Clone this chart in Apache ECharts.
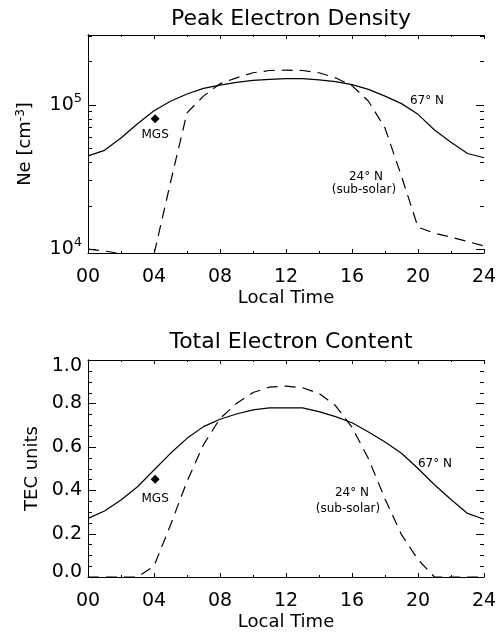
<!DOCTYPE html>
<html><head><meta charset="utf-8">
<script src="https://cdn.jsdelivr.net/npm/echarts@6/dist/echarts.min.js"></script>
<style>html,body{margin:0;padding:0;background:#fff;overflow:hidden}#c{width:500px;height:634px}</style>
</head><body><div id="c"></div>
<script>
// ---- data ----
const hours = [0,1,2,3,4,5,6,7,8,9,10,11,12,13,14,15,16,17,18,19,20,21,22,23,24];
const ne67 = [4.43e4,4.84e4,5.9e4,7.4e4,9.1e4,1.06e5,1.19e5,1.30e5,1.37e5,1.43e5,1.48e5,1.50e5,1.52e5,1.52e5,1.49e5,1.45e5,1.38e5,1.28e5,1.15e5,1.02e5,8.6e4,6.7e4,5.5e4,4.6e4,4.3e4];
const ne24 = [1.0e4,9.7e3,9.3e3,8.0e3,9.2e3,2.9e4,8.8e4,1.15e5,1.40e5,1.54e5,1.67e5,1.73e5,1.74e5,1.73e5,1.67e5,1.54e5,1.36e5,1.06e5,6.9e4,3.2e4,1.42e4,1.29e4,1.21e4,1.13e4,1.05e4];
const tec67 = [0.27,0.304,0.355,0.416,0.493,0.57,0.639,0.693,0.727,0.751,0.77,0.779,0.78,0.779,0.762,0.739,0.711,0.668,0.622,0.57,0.50,0.425,0.357,0.293,0.266];
const tec24 = [0,0,0,0,0.05,0.24,0.44,0.61,0.73,0.80,0.85,0.875,0.88,0.872,0.846,0.79,0.69,0.545,0.36,0.195,0.08,0,0,0,0];
const mgsTime = 4.07;
const mgsNe = 8.0e4;
const mgsTec = 0.45;
const xTickLabels = ['00','04','08','12','16','20','24'];
const xTickValues = [0,2,4,6,8,10,12,14,16,18,20,22,24];
const neMajorTicks = [1e4,1e5];
const neMinorTicks = [2e4,3e4,4e4,5e4,6e4,7e4,8e4,9e4,2e5,3e5];
const tecMajorTicks = [0,0.2,0.4,0.6,0.8,1.0];
const tecMinorTicks = [0.05,0.1,0.15,0.25,0.3,0.35,0.45,0.5,0.55,0.65,0.7,0.75,0.85,0.9,0.95];
const titles = ['Peak Electron Density','Total Electron Content'];

const FONT = 'DejaVu Sans';
const BLACK = '#000';
const NE_MIN = 9400, NE_MAX = 3.05e5;

function xAxisCfg(grid, pos, labels, name) {
  return {
    type:'value', gridIndex:grid, position:pos, min:0, max:24, interval:4,
    name: name || '', nameLocation:'middle', nameGap:36,
    nameTextStyle:{fontFamily:FONT, fontSize:18, color:BLACK},
    axisLine:{show:true, onZero:false, lineStyle:{color:BLACK, width:1}},
    axisTick:{show:false}, minorTick:{show:false}, splitLine:{show:false},
    axisLabel:{show:labels, margin:15, fontFamily:FONT, fontSize:19, color:BLACK,
      formatter: v => xTickLabels[Math.round(v/4)]}
  };
}
// tick items: [x, y, kind(0 = x tick, 1 = y tick), length]
function tickData(yRef, yMajor, yMinor) {
  const d = [];
  xTickValues.forEach(v => d.push([v, yRef, 0, (v % 4 === 0) ? 4 : 2]));
  yMajor.forEach(v => d.push([0, v, 1, 8]));
  yMinor.forEach(v => d.push([0, v, 1, 4]));
  return d;
}
function tickSeries(xi, yi, data) {
  return {
    type:'custom', xAxisIndex:xi, yAxisIndex:yi, data:data, silent:true, clip:false, z:10,
    renderItem:(params, api) => {
      const cs = params.coordSys;
      const p = api.coord([api.value(0), api.value(1)]);
      const len = api.value(3);
      const st = {stroke:BLACK, lineWidth:1};
      if (api.value(2) === 0) {
        const x = Math.round(p[0]) + 0.5;
        const yb = cs.y + cs.height, yt = cs.y;
        return {type:'group', children:[
          {type:'line', shape:{x1:x, y1:yb, x2:x, y2:yb - len}, style:st},
          {type:'line', shape:{x1:x, y1:yt, x2:x, y2:yt + len}, style:st}
        ]};
      }
      const y = Math.round(p[1]) + 0.5;
      const xl = cs.x, xr = cs.x + cs.width;
      return {type:'group', children:[
        {type:'line', shape:{x1:xl, y1:y, x2:xl + len, y2:y}, style:st},
        {type:'line', shape:{x1:xr, y1:y, x2:xr - len, y2:y}, style:st}
      ]};
    }
  };
}

const option = {
  animation:false,
  backgroundColor:'#fff',
  title:[
    {text:titles[0], left:286, top:3, textAlign:'center', textStyle:{fontFamily:FONT, fontSize:22, fontWeight:'normal', color:BLACK}},
    {text:titles[1], left:286, top:326, textAlign:'center', textStyle:{fontFamily:FONT, fontSize:22, fontWeight:'normal', color:BLACK}}
  ],
  grid:[
    {left:88, top:35, width:396, height:218, outerBoundsMode:'none'},
    {left:88, top:360, width:396, height:217, outerBoundsMode:'none'}
  ],
  xAxis:[
    xAxisCfg(0,'bottom',true,'Local Time'),
    xAxisCfg(0,'top',false),
    xAxisCfg(1,'bottom',true,'Local Time'),
    xAxisCfg(1,'top',false)
  ],
  yAxis:[
    {type:'log', gridIndex:0, position:'left', min:NE_MIN, max:NE_MAX, logBase:10,
      name:'Ne [cm{s|-3}]', nameLocation:'middle', nameGap:52,
      nameTextStyle:{fontFamily:FONT, fontSize:18, color:BLACK, rich:{s:{fontFamily:FONT, fontSize:12, padding:[0,0,9,0]}}},
      axisLine:{show:true, lineStyle:{color:BLACK}},
      axisTick:{show:false}, splitLine:{show:false}, minorTick:{show:false},
      axisLabel:{show:true, margin:6, fontFamily:FONT, fontSize:19, color:BLACK,
        formatter: v => { const e = Math.log10(v); if (Math.abs(e-Math.round(e))>1e-6) return ''; return '{b|10}{s|'+Math.round(e)+'}'; },
        rich:{b:{fontFamily:FONT, fontSize:19, color:BLACK}, s:{fontFamily:FONT, fontSize:13, color:BLACK, padding:[0,0,12,0]}}}
    },
    {type:'log', gridIndex:0, position:'right', min:NE_MIN, max:NE_MAX, logBase:10,
      axisLine:{show:true, lineStyle:{color:BLACK}},
      axisTick:{show:false}, splitLine:{show:false}, axisLabel:{show:false}
    },
    {type:'value', gridIndex:1, position:'left', min:0, max:1, interval:0.2,
      name:'TEC units', nameLocation:'middle', nameGap:47,
      nameTextStyle:{fontFamily:FONT, fontSize:18, color:BLACK},
      axisLine:{show:true, lineStyle:{color:BLACK}},
      axisTick:{show:false}, minorTick:{show:false}, splitLine:{show:false},
      axisLabel:{show:true, margin:6, fontFamily:FONT, fontSize:19, color:BLACK,
        formatter: v => v === 0 ? '{lo|0.0}' : (v === 1 ? '{hi|1.0}' : v.toFixed(1)),
        rich:{lo:{fontFamily:FONT, fontSize:19, color:BLACK, padding:[0,0,10,0]},
              hi:{fontFamily:FONT, fontSize:19, color:BLACK, padding:[12,0,0,0]}}}
    },
    {type:'value', gridIndex:1, position:'right', min:0, max:1, interval:0.2,
      axisLine:{show:true, lineStyle:{color:BLACK}},
      axisTick:{show:false}, minorTick:{show:false}, splitLine:{show:false}, axisLabel:{show:false}
    }
  ],
  series:[
    {type:'line', xAxisIndex:0, yAxisIndex:0, data:hours.map((h,i)=>[h,ne67[i]]), showSymbol:false, symbol:'none',
      lineStyle:{color:BLACK, width:1.2}, silent:true},
    {type:'line', xAxisIndex:0, yAxisIndex:0, data:hours.map((h,i)=>[h,ne24[i]]), showSymbol:false, symbol:'none',
      lineStyle:{color:BLACK, width:1.2, type:[11,7]}, silent:true},
    {type:'scatter', xAxisIndex:0, yAxisIndex:0, data:[[mgsTime,mgsNe]], symbol:'diamond', symbolSize:9,
      itemStyle:{color:BLACK, opacity:1},
      label:{show:true, position:'bottom', distance:6, formatter:'MGS', fontFamily:FONT, fontSize:12, color:BLACK, opacity:1}},
    tickSeries(0, 0, tickData(NE_MIN, neMajorTicks, neMinorTicks)),
    {type:'line', xAxisIndex:2, yAxisIndex:2, data:hours.map((h,i)=>[h,tec67[i]]), showSymbol:false, symbol:'none',
      lineStyle:{color:BLACK, width:1.2}, silent:true},
    {type:'line', xAxisIndex:2, yAxisIndex:2, data:hours.map((h,i)=>[h,tec24[i]]), showSymbol:false, symbol:'none',
      lineStyle:{color:BLACK, width:1.2, type:[11,7]}, silent:true},
    {type:'scatter', xAxisIndex:2, yAxisIndex:2, data:[[mgsTime,mgsTec]], symbol:'diamond', symbolSize:9,
      itemStyle:{color:BLACK, opacity:1},
      label:{show:true, position:'bottom', distance:9, formatter:'MGS', fontFamily:FONT, fontSize:12, color:BLACK, opacity:1}},
    tickSeries(2, 2, tickData(0, tecMajorTicks, tecMinorTicks))
  ],
  graphic:[
    {type:'text', x:427, y:101, style:{text:'67° N', fontFamily:FONT, fontSize:12, fill:BLACK, align:'center', verticalAlign:'middle'}},
    {type:'text', x:366, y:177, style:{text:'24° N', fontFamily:FONT, fontSize:12, fill:BLACK, align:'center', verticalAlign:'middle'}},
    {type:'text', x:364, y:190, style:{text:'(sub-solar)', fontFamily:FONT, fontSize:12, fill:BLACK, align:'center', verticalAlign:'middle'}},
    {type:'text', x:435, y:464, style:{text:'67° N', fontFamily:FONT, fontSize:12, fill:BLACK, align:'center', verticalAlign:'middle'}},
    {type:'text', x:352, y:493, style:{text:'24° N', fontFamily:FONT, fontSize:12, fill:BLACK, align:'center', verticalAlign:'middle'}},
    {type:'text', x:348, y:509, style:{text:'(sub-solar)', fontFamily:FONT, fontSize:12, fill:BLACK, align:'center', verticalAlign:'middle'}}
  ]
};
const chart = echarts.init(document.getElementById('c'), null, {renderer:'canvas'});
chart.setOption(option);
</script>
</body></html>
